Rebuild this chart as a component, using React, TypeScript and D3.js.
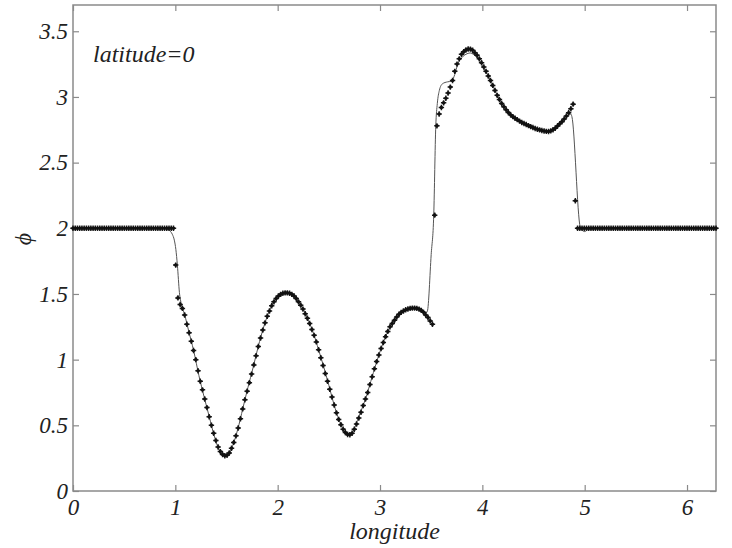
import React, { useEffect, useRef } from "react";
import * as d3 from "d3";

// tick labels
const xTicks = [0, 1, 2, 3, 4, 5, 6];
const yTicks = [0, 0.5, 1, 1.5, 2, 2.5, 3, 3.5];

// numerical solution, sampled on a uniform longitude grid (288 cells over 2*pi)
const gridCells = 288;
const phiSamples = [
  2, 2, 2, 2, 2, 2, 2, 2, 2, 2, 2, 2, 2, 2, 2, 2, 2, 2, 2, 2, 2, 2, 2,
  2, 2, 2, 2, 2, 2, 2, 2, 2, 2, 2, 2, 2, 2, 2, 2, 2, 2, 2, 2, 2, 2, 2,
  1.72, 1.47, 1.42, 1.39, 1.34, 1.27, 1.205, 1.14, 1.07, 1.0,
  0.915, 0.835, 0.77, 0.7, 0.635, 0.565, 0.5, 0.44, 0.385, 0.335,
  0.3, 0.278, 0.268, 0.272, 0.29, 0.325, 0.37, 0.42, 0.48, 0.55,
  0.625, 0.695, 0.76, 0.825, 0.89, 0.96, 1.03, 1.1, 1.165, 1.225,
  1.28, 1.33, 1.37, 1.41, 1.44, 1.465, 1.485, 1.497, 1.505, 1.508,
  1.508, 1.505, 1.497, 1.485, 1.465, 1.44, 1.415, 1.385, 1.35, 1.315,
  1.275, 1.23, 1.185, 1.135, 1.075, 1.015, 0.955, 0.895, 0.835, 0.775,
  0.715, 0.655, 0.595, 0.545, 0.505, 0.47, 0.445, 0.43, 0.428, 0.44,
  0.47, 0.51, 0.555, 0.6, 0.65, 0.7, 0.75, 0.81, 0.87, 0.93,
  0.985, 1.035, 1.085, 1.13, 1.175, 1.215, 1.25, 1.275, 1.3, 1.325,
  1.345, 1.36, 1.37, 1.38, 1.386, 1.39, 1.392, 1.392, 1.39, 1.385,
  1.375, 1.36, 1.34, 1.32, 1.295, 1.27, 2.1, 2.78, 2.87, 2.92,
  2.955, 2.99, 3.03, 3.075, 3.125, 3.195, 3.25, 3.29, 3.325, 3.345,
  3.358, 3.365, 3.364, 3.355, 3.337, 3.318, 3.29, 3.26, 3.228, 3.195,
  3.16, 3.125, 3.088, 3.05, 3.012, 2.98, 2.95, 2.925, 2.903, 2.882,
  2.864, 2.85, 2.838, 2.827, 2.816, 2.806, 2.798, 2.79, 2.782, 2.774,
  2.767, 2.76, 2.754, 2.749, 2.745, 2.741, 2.738, 2.737, 2.742, 2.75,
  2.762, 2.778, 2.795, 2.812, 2.832, 2.855, 2.88, 2.91, 2.945, 2.21,
  2, 2, 2, 2, 2, 2, 2, 2, 2, 2, 2, 2, 2, 2, 2, 2, 2, 2, 2, 2, 2,
  2, 2, 2, 2, 2, 2, 2, 2, 2, 2, 2, 2, 2, 2, 2, 2, 2, 2, 2, 2, 2,
  2, 2, 2, 2, 2, 2, 2, 2, 2, 2, 2, 2, 2, 2, 2, 2, 2, 2, 2, 2, 2,
];

// reference (thin line) solution
const refLon = [
  0, 0.9, 0.94, 0.97, 0.99, 1.005, 1.02, 1.04, 1.06, 1.09, 1.13, 1.18, 1.23,
  1.28, 1.33, 1.38, 1.43, 1.48, 1.52, 1.56, 1.61, 1.66, 1.71, 1.76, 1.81,
  1.86, 1.91, 1.96, 2.01, 2.06, 2.1, 2.15, 2.2, 2.25, 2.3, 2.35, 2.4, 2.45,
  2.5, 2.55, 2.6, 2.64, 2.68, 2.71, 2.74, 2.78, 2.82, 2.86, 2.91, 2.96, 3.01,
  3.06, 3.11, 3.16, 3.21, 3.26, 3.31, 3.36, 3.4, 3.44, 3.463, 3.5, 3.525,
  3.545, 3.56, 3.58, 3.61, 3.66, 3.7, 3.73, 3.76, 3.8, 3.84, 3.88, 3.92,
  3.96, 4.0, 4.05, 4.1, 4.15, 4.2, 4.25, 4.3, 4.35, 4.4, 4.45, 4.5, 4.55,
  4.6, 4.65, 4.7, 4.75, 4.8, 4.84, 4.865, 4.875, 4.956, 4.975, 5.0, 5.03,
  5.06, 6.2832,
];
const refPhi = [
  2, 2, 1.985, 1.955, 1.91, 1.84, 1.72, 1.51, 1.42, 1.345, 1.22, 1.065, 0.88,
  0.72, 0.57, 0.42, 0.31, 0.27, 0.28, 0.345, 0.47, 0.63, 0.79, 0.94, 1.1,
  1.24, 1.355, 1.44, 1.487, 1.507, 1.508, 1.49, 1.445, 1.385, 1.3, 1.2, 1.075,
  0.945, 0.805, 0.66, 0.54, 0.47, 0.435, 0.43, 0.46, 0.54, 0.62, 0.705, 0.835,
  0.965, 1.085, 1.185, 1.265, 1.32, 1.362, 1.383, 1.392, 1.39, 1.378, 1.35,
  1.37, 1.8, 2.1, 2.78, 2.95, 3.05, 3.1, 3.115, 3.12, 3.17, 3.25, 3.3, 3.325,
  3.335, 3.32, 3.29, 3.24, 3.17, 3.09, 3.005, 2.935, 2.885, 2.848, 2.82, 2.8,
  2.782, 2.765, 2.752, 2.742, 2.738, 2.755, 2.79, 2.83, 2.86, 2.87, 2.85,
  2.01, 1.985, 1.975, 1.99, 2, 2,
];

const FONT = "Times New Roman, Liberation Serif, serif";

export default function App() {
  const ref = useRef<SVGSVGElement>(null);
  const width = 732;
  const height = 548;
  const margin = { top: 5, right: 16, bottom: 57, left: 73 };

  useEffect(() => {
    const svg = d3.select(ref.current);
    svg.selectAll("*").remove();

    const x = d3
      .scaleLinear()
      .domain([0, 2 * Math.PI])
      .range([margin.left, width - margin.right]);
    const y = d3
      .scaleLinear()
      .domain([0, 3.7])
      .range([height - margin.bottom, margin.top]);

    const axisColor = "#8a8a8a";

    // frame
    svg
      .append("rect")
      .attr("x", x(0))
      .attr("y", y(3.7))
      .attr("width", x(2 * Math.PI) - x(0))
      .attr("height", y(0) - y(3.7))
      .attr("fill", "none")
      .attr("stroke", axisColor)
      .attr("stroke-width", 1.5);

    const styleAxis = (g: any, labels: boolean) => {
      g.attr("font-family", null).attr("font-size", null);
      g.select(".domain").remove();
      g.selectAll(".tick line").attr("stroke", axisColor).attr("stroke-width", 1.2);
      g.selectAll(".tick text")
        .style("font-family", FONT)
        .style("font-style", "italic")
        .style("font-size", "23px")
        .attr("fill", labels ? "#222" : "none");
    };

    svg
      .append("g")
      .attr("transform", `translate(0,${y(0)})`)
      .call(d3.axisBottom(x).tickValues(xTicks).tickSize(-6).tickPadding(8).tickFormat(d3.format("d")))
      .call((g: any) => styleAxis(g, true));
    svg
      .append("g")
      .attr("transform", `translate(0,${y(3.7)})`)
      .call(d3.axisTop(x).tickValues(xTicks).tickSize(-6).tickFormat(() => ""))
      .call((g: any) => styleAxis(g, false));
    svg
      .append("g")
      .attr("transform", `translate(${x(0)},0)`)
      .call(d3.axisLeft(y).tickValues(yTicks).tickSize(-6).tickPadding(5).tickFormat((d: any) => String(d)))
      .call((g: any) => styleAxis(g, true));
    svg
      .append("g")
      .attr("transform", `translate(${x(2 * Math.PI)},0)`)
      .call(d3.axisRight(y).tickValues(yTicks).tickSize(-6).tickFormat(() => ""))
      .call((g: any) => styleAxis(g, false));

    // thin reference line
    const refPts = refLon.map((lon, i) => [lon, refPhi[i]] as [number, number]);
    const line = d3
      .line<[number, number]>()
      .x((d) => x(d[0]))
      .y((d) => y(d[1]))
      .curve(d3.curveMonotoneX);
    svg
      .append("path")
      .attr("d", line(refPts))
      .attr("fill", "none")
      .attr("stroke", "#555")
      .attr("stroke-width", 1);

    // markers
    const step = (2 * Math.PI) / gridCells;
    const pts = phiSamples.map((p, i) => ({ lon: i * step, phi: p }));
    const s = 2.7;
    svg
      .append("g")
      .selectAll("path")
      .data(pts)
      .enter()
      .append("path")
      .attr("d", (d) => {
        const cx = x(d.lon);
        const cy = y(d.phi);
        return `M${cx - s},${cy}H${cx + s}M${cx},${cy - s}V${cy + s}`;
      })
      .attr("stroke", "#1a1a1a")
      .attr("stroke-width", 1.5)
      .attr("fill", "none");
    svg
      .append("g")
      .selectAll("circle")
      .data(pts)
      .enter()
      .append("circle")
      .attr("cx", (d) => x(d.lon))
      .attr("cy", (d) => y(d.phi))
      .attr("r", 1.8)
      .attr("fill", "#111");

    const label = (sel: any) =>
      sel
        .style("font-family", FONT)
        .style("font-style", "italic")
        .style("font-size", "24px")
        .attr("fill", "#222");

    // annotations
    svg.append("text").attr("x", 93).attr("y", 62).call(label).text("latitude=0");

    svg
      .append("text")
      .attr("x", (x(0) + x(2 * Math.PI)) / 2)
      .attr("y", 539)
      .attr("text-anchor", "middle")
      .call(label)
      .text("longitude");

    svg
      .append("text")
      .attr("transform", "translate(31,239) rotate(-90)")
      .attr("text-anchor", "middle")
      .call(label)
      .text("ϕ");
  }, []);

  return (
    <svg
      ref={ref}
      width={width}
      height={height}
      style={{ position: "absolute", left: 0, top: 0, background: "white" }}
    />
  );
}
